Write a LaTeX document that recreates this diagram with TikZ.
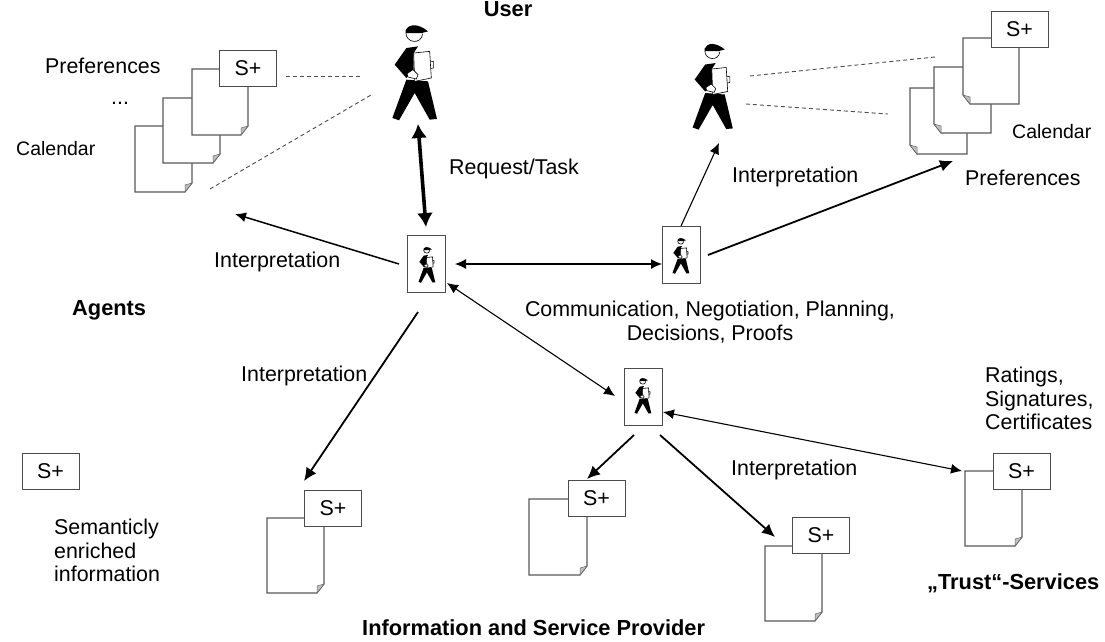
\documentclass[tikz,border=0pt]{standalone}
\usepackage{fontspec}
\setmainfont{Liberation Sans}
\usetikzlibrary{arrows.meta, positioning}
\tikzset{
    lbl/.style={inner sep=0pt, align=left, font=\fontsize{21.4}{23.6}\selectfont},
    ttl/.style={lbl, font=\fontsize{21.8}{24}\selectfont\bfseries},
    agentbox/.style={draw=black!70, fill=white, line width=1pt, minimum width=38pt, minimum height=57pt, inner sep=0pt},
    splus/.style={draw=black!70, fill=white, line width=1pt, minimum width=57pt, minimum height=36pt, inner sep=0pt, font=\fontsize{21.4}{24}\selectfont},
    conn/.style={-{Latex[length=11pt,width=10pt]}, line width=1.1pt},
    both/.style={{Latex[length=11pt,width=10pt]}-{Latex[length=11pt,width=10pt]}, line width=1.1pt},
    thickconn/.style={-{Latex[length=13pt,width=12pt]}, line width=1.8pt},
    heavy/.style={{Latex[length=14pt,width=16pt]}-{Latex[length=14pt,width=16pt]}, line width=3.6pt},
    dots/.style={dashed, dash pattern=on 4pt off 3pt, black!70, line width=0.9pt},
    sheetline/.style={draw=black!65, fill=white, line width=1.1pt},
    sheetfold/.style={draw=black!60, fill=black!25, line width=0.5pt},
}
% x, y = upper left corner, #3 = width, #4 = height
\newcommand{\sheetR}[4]{
    \draw[sheetline] (#1,#2) -- ++(#3,0) -- ++(0,#4-9) -- ++(-7,9) -- ++(-#3+7,0) -- cycle;
    \draw[sheetfold] (#1+#3,#2+#4-9) -- ++(-7,2) -- ++(0,7) -- cycle;
}
\newcommand{\sheetL}[4]{
    \draw[sheetline] (#1,#2) -- ++(#3,0) -- ++(0,#4) -- ++(-#3+7,0) -- ++(-7,-9) -- cycle;
    \draw[sheetfold] (#1,#2+#4-9) -- ++(7,2) -- ++(0,7) -- cycle;
}
% walking figure, drawn in 3x pixels about its middle
\tikzset{
    walker/.pic={
        % hat and face
        \fill (-28,-128) .. controls (-20,-148) and (10,-150) .. (39,-125) -- (20,-120) -- (-28,-120) -- cycle;
        \draw[line width=0.6pt] (-27,-120) .. controls (-28,-92) and (18,-82) .. (23,-118);
        % body
        \fill (-26,-75) -- (9,-80) -- (-4,-60) -- (-4,-5) -- (-26,15) -- (-61,-25) -- cycle;
        % legs
        \fill (-26,20) -- (-68,135) -- (-48,142) -- (-1,60) -- (44,140) -- (66,138) -- (39,25) -- cycle;
        % clipboard and hand
        \draw[fill=white, line width=0.6pt] (-4,-60) -- (44,-65) -- (49,15) -- (-1,25) -- cycle;
        \draw[line width=0.6pt] (47,-36) -- (56,-34) -- (56,-15) -- (48,-14);
        \draw[fill=white, line width=0.6pt] (-24,2) -- (-6,-10) -- (9,5) -- (4,18) -- (-21,12) -- cycle;
    }
}
\begin{document}
\begin{tikzpicture}[x=1pt, y=-1pt]
    \useasboundingbox (0,0) rectangle (1105,641);

    % Agents
    \node[agentbox] (agentA) at (426.5,264) {};
    \node[agentbox] (agentB) at (681,255) {};
    \node[agentbox] (agentC) at (643,397) {};
    \pic[scale=0.125] at (427,265) {walker};
    \pic[scale=0.125] at (681,256) {walker};
    \pic[scale=0.125] at (643,396) {walker};

    % Users
    \pic[scale=0.333] at (415,73) {walker};
    \pic[scale=0.3] at (713,87) {walker};

    % Left stack
    \sheetR{135}{126}{57}{66}
    \sheetR{163}{98}{57}{65}
    \sheetR{192}{69}{56}{66}
    \node[splus] (splusL) at (248,68.5) {S+};

    % Right stack
    \sheetL{910}{88}{57}{66}
    \sheetL{934}{67}{57}{66}
    \sheetL{963}{38}{56}{66}
    \node[splus] (splusR) at (1019.5,29) {S+};

    % Provider pages
    \sheetR{267}{518}{57}{75}
    \node[splus] (splusA) at (333,508) {S+};
    \sheetR{529}{499}{58}{76}
    \node[splus] (splusB) at (596.5,498.5) {S+};
    \sheetR{765}{546}{57}{75}
    \node[splus] (splusC) at (821,535.5) {S+};
    \sheetR{965}{471}{57}{75}
    \node[splus] (splusD) at (1021.5,471) {S+};

    % Legend
    \node[splus] (splusK) at (50.5,471.5) {S+};

    % free ends
    \coordinate (userFoot) at (418,124);
    \coordinate (agentTop) at (426,227);
    \coordinate (dashA) at (286,76);
    \coordinate (dashB) at (362,76);
    \coordinate (dashC) at (210,189);
    \coordinate (dashD) at (371,95);
    \coordinate (dashE) at (750,76);
    \coordinate (dashF) at (935,57);
    \coordinate (dashG) at (746,104);
    \coordinate (dashH) at (888,114);
    \coordinate (leftEnd) at (235,214);
    \coordinate (leftStart) at (399,264);
    \coordinate (abStart) at (455,264);
    \coordinate (abEnd) at (662,264);
    \coordinate (upStart) at (681,226);
    \coordinate (upEnd) at (719,143);
    \coordinate (rightStart) at (708,255);
    \coordinate (rightEnd) at (953,161);
    \coordinate (acStart) at (447,283);
    \coordinate (acEnd) at (615,396);
    \coordinate (downStart) at (418,312);
    \coordinate (downEnd) at (304,481);
    \coordinate (cLeftStart) at (634,435);
    \coordinate (cLeftEnd) at (587,479);
    \coordinate (cRightStart) at (660,435);
    \coordinate (cRightEnd) at (775,537);
    \coordinate (cdStart) at (663,412);
    \coordinate (cdEnd) at (962,471);

    % Arrows
    \draw[heavy] (userFoot) -- (agentTop);
    \draw[conn, line width=1.5pt] (leftStart) -- (leftEnd);
    \draw[both] (abStart) -- (abEnd);
    \draw[conn] (upStart) -- (upEnd);
    \draw[thickconn] (rightStart) -- (rightEnd);
    \draw[both] (acStart) -- (acEnd);
    \draw[thickconn] (downStart) -- (downEnd);
    \draw[thickconn] (cLeftStart) -- (cLeftEnd);
    \draw[thickconn] (cRightStart) -- (cRightEnd);
    \draw[both] (cdStart) -- (cdEnd);

    % Dashed lines
    \draw[dots] (dashA) -- (dashB);
    \draw[dots] (dashC) -- (dashD);
    \draw[dots] (dashE) -- (dashF);
    \draw[dots] (dashG) -- (dashH);

    % Labels
    \node[ttl] (userLbl) at (508,9) {User};
    \node[lbl, anchor=west] (prefLbl) at (45,66) {Preferences};
    \node[lbl, anchor=west] (dotsLbl) at (111,103) {...};
    \node[lbl, anchor=west, font=\fontsize{19.5}{23}\selectfont] (calLbl) at (16,149) {Calendar};
    \node[lbl, anchor=west] (reqLbl) at (449,169) {Request/Task};
    \node[lbl, anchor=west] (intA) at (732,177) {Interpretation};
    \node[lbl, anchor=west, font=\fontsize{19.5}{23}\selectfont] (calR) at (1012,132) {Calendar};
    \node[lbl, anchor=west] (prefR) at (965,178) {Preferences};
    \node[lbl, anchor=west] (intB) at (214,262) {Interpretation};
    \node[ttl, anchor=west] (agentLbl) at (72,310) {Agents};
    \node[lbl, align=center] (commLbl) at (710,322) {Communication, Negotiation, Planning,\\Decisions, Proofs};
    \node[lbl, anchor=west] (intC) at (241,376) {Interpretation};
    \node[lbl, anchor=north west] (rateLbl) at (985,367) {Ratings,\\Signatures,\\Certificates};
    \node[lbl, anchor=west] (intD) at (731,470) {Interpretation};
    \node[lbl, anchor=north west] (semLbl) at (54,519) {Semanticly\\enriched\\information};
    \node[ttl, anchor=west] (trustLbl) at (927,583) {„Trust“-Services};
    \node[ttl, anchor=west] (provLbl) at (362,628) {Information and Service Provider};
\end{tikzpicture}
\end{document}
